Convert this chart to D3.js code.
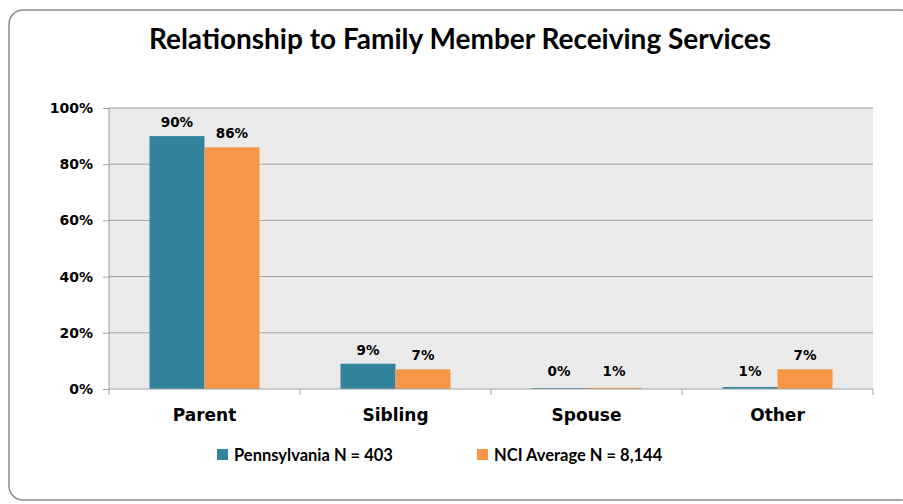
<!DOCTYPE html>
<html>
<head>
<meta charset="utf-8">
<script src="https://cdn.jsdelivr.net/npm/d3@7"></script>
<style>
  body { margin: 0; background: #fff; }
  svg { display: block; }
</style>
</head>
<body>
<div id="chart"></div>
<script>
// chart data
let categories = ["Parent", "Sibling", "Spouse", "Other"];
let seriesNames = ["Pennsylvania N = 403", "NCI Average N = 8,144"];
let pennsylvania = [90, 9, 0.3, 0.7];
let nciAverage = [86, 7, 0.4, 7];
let valueLabels = [["90%", "9%", "0%", "1%"], ["86%", "7%", "1%", "7%"]];
let yTicks = [0, 20, 40, 60, 80, 100];

let width = 903,
    height = 504;
let margin = {top: 108, left: 109};
let plotW = 764,
    plotH = 281;
let colors = ["#31849b", "#f79646"];

let svg = d3.select("#chart")
    .append("svg")
    .attr("width", width)
    .attr("height", height);

// outer rounded frame
svg.append("rect")
    .attr("x", 9).attr("y", 10)
    .attr("width", 905).attr("height", 490)
    .attr("rx", 14)
    .attr("fill", "#fff")
    .attr("stroke", "#8c8c8c")
    .attr("stroke-width", 1.5);

svg.append("text")
    .attr("x", 460).attr("y", 49)
    .attr("text-anchor", "middle")
    .style("font-family", "Lato, 'Open Sans', sans-serif")
    .style("font-weight", "bold")
    .style("font-size", "28px")
    .attr("fill", "#000")
    .text("Relationship to Family Member Receiving Services");

let g = svg.append("g")
    .attr("transform", `translate(${margin.left}, ${margin.top})`);

let x = d3.scaleBand()
    .domain(categories)
    .range([0, plotW])
    .paddingInner(0.424)
    .paddingOuter(0.212);

let xSub = d3.scaleBand()
    .domain([0, 1])
    .range([0, x.bandwidth()]);

let y = d3.scaleLinear()
    .domain([0, 100])
    .range([plotH, 0]);

// plot background
g.append("rect")
    .attr("width", plotW)
    .attr("height", plotH)
    .attr("fill", "#eaeaea");

// gridlines
g.append("g")
    .selectAll("line")
    .data(yTicks.filter(d => d > 0))
    .join("line")
    .attr("x1", 0).attr("x2", plotW)
    .attr("y1", d => y(d)).attr("y2", d => y(d))
    .attr("stroke", "#a0a0a0")
    .attr("stroke-width", 1);

// y axis
let yAxis = g.append("g")
    .call(d3.axisLeft(y).tickValues(yTicks).tickFormat(d => d + "%").tickSize(6).tickPadding(10));
yAxis.select(".domain").attr("stroke", "#a0a0a0").attr("d", `M0,0V${plotH}`);
yAxis.selectAll(".tick line").attr("stroke", "#a0a0a0");
yAxis.selectAll("text")
    .style("font-family", "'DejaVu Sans', sans-serif")
    .style("font-weight", "bold")
    .style("font-size", "14px")
    .attr("fill", "#000");

// bars
let series = [pennsylvania, nciAverage];
series.forEach(function(values, s) {
    g.append("g")
        .selectAll("rect")
        .data(values)
        .join("rect")
        .attr("x", (d, i) => x(categories[i]) + xSub(s))
        .attr("y", d => y(d))
        .attr("width", xSub.bandwidth())
        .attr("height", d => plotH - y(d))
        .attr("fill", colors[s]);

    g.append("g")
        .selectAll("text")
        .data(values)
        .join("text")
        .attr("x", (d, i) => x(categories[i]) + xSub(s) + xSub.bandwidth() / 2)
        .attr("y", d => Math.min(y(d), plotH - 4) - 9)
        .attr("text-anchor", "middle")
        .style("font-family", "'DejaVu Sans', sans-serif")
        .style("font-weight", "bold")
        .style("font-size", "13.5px")
        .attr("fill", "#000")
        .text((d, i) => valueLabels[s][i]);
});

// x axis
let xBound = d3.scaleLinear().domain([0, categories.length]).range([0, plotW]);
let xAxis = g.append("g")
    .attr("transform", `translate(0, ${plotH})`);
xAxis.append("line")
    .attr("x1", 0).attr("x2", plotW)
    .attr("stroke", "#a0a0a0");
xAxis.selectAll(".tk")
    .data(d3.range(categories.length + 1))
    .join("line")
    .attr("class", "tk")
    .attr("x1", d => xBound(d)).attr("x2", d => xBound(d))
    .attr("y1", 0).attr("y2", 6)
    .attr("stroke", "#a0a0a0");
xAxis.selectAll("text")
    .data(categories)
    .join("text")
    .attr("x", d => x(d) + x.bandwidth() / 2)
    .attr("y", 32)
    .attr("text-anchor", "middle")
    .style("font-family", "'DejaVu Sans', sans-serif")
    .style("font-weight", "bold")
    .style("font-size", "17px")
    .attr("fill", "#000")
    .text(d => d);

// legend
let legendX = [217, 477];
let legend = svg.append("g");
seriesNames.forEach(function(name, s) {
    legend.append("rect")
        .attr("x", legendX[s]).attr("y", 449)
        .attr("width", 11).attr("height", 11)
        .attr("fill", colors[s]);
    legend.append("text")
        .attr("x", legendX[s] + 17).attr("y", 461)
        .style("font-family", "Lato, 'Open Sans', sans-serif")
        .style("font-weight", "bold")
        .style("font-size", "16.5px")
        .attr("fill", "#000")
        .text(name);
});
</script>
</body>
</html>
